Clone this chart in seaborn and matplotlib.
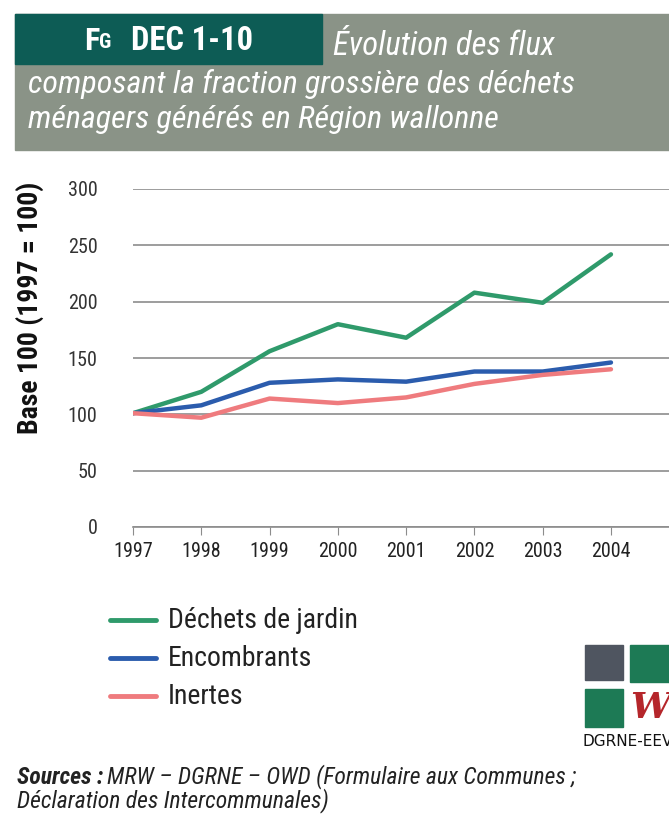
import numpy as np
import pandas as pd
import seaborn as sns
import matplotlib.pyplot as plt
from matplotlib import font_manager
from matplotlib.patches import Rectangle

years = [1997, 1998, 1999, 2000, 2001, 2002, 2003, 2004]
jardin = [101, 120, 156, 180, 168, 208, 199, 242]
encombrants = [101, 108, 128, 131, 129, 138, 138, 146]
inertes = [101, 97, 114, 110, 115, 127, 135, 140]
series_names = ["Déchets de jardin", "Encombrants", "Inertes"]
colors = ["#2f9a6b", "#2b5cad", "#ef7b7e"]

df = pd.DataFrame({"year": years * 3,
                   "value": jardin + encombrants + inertes,
                   "flux": np.repeat(series_names, len(years))})

sns.set_style("white")

# pick a narrow family if one is installed
names = {f.name for f in font_manager.fontManager.ttflist}
narrow = "Liberation Sans"
for cand in ["Liberation Sans Narrow", "Roboto Condensed", "Open Sans Condensed",
             "DejaVu Sans Condensed"]:
    if cand in names:
        narrow = cand
        break
plt.rcParams["font.family"] = [narrow, "DejaVu Sans"]

W, H = 669, 826
fig = plt.figure(figsize=(W / 100, H / 100), dpi=100)


def fx(px):
    return px / W


def fy(py):
    return 1 - py / H


# header
fig.patches.append(Rectangle((fx(15), fy(150)), fx(669 - 15), 136 / H,
                             transform=fig.transFigure, color="#8a9387", zorder=0))
fig.patches.append(Rectangle((fx(15), fy(64)), fx(322 - 15), 50 / H,
                             transform=fig.transFigure, color="#0d5c55", zorder=1))
fig.text(fx(84), fy(41), "F", color="white", fontsize=23, fontweight="bold", va="center")
fig.text(fx(99), fy(43), "G", color="white", fontsize=15, fontweight="bold", va="center")
fig.text(fx(131), fy(41), "DEC 1-10", color="white", fontsize=23.5, fontweight="bold",
         va="center")
fig.text(fx(333), fy(46), "Évolution des flux", color="white", fontsize=23.5,
         style="italic", va="center")
fig.text(fx(28), fy(84), "composant la fraction grossière des déchets", color="white",
         fontsize=23, style="italic", va="center")
fig.text(fx(28), fy(120), "ménagers générés en Région wallonne", color="white",
         fontsize=23, style="italic", va="center")

# chart
ax = fig.add_axes([fx(133), fy(527), 1 - fx(133), (527 - 189) / H])
sns.lineplot(data=df, x="year", y="value", hue="flux", palette=colors,
             linewidth=3.2, ax=ax, legend=False)
ax.set_xlim(1997, 2004.85)
ax.set_ylim(0, 300)
ax.set_yticks(range(0, 301, 50))
ax.set_xticks(years)
ax.yaxis.grid(True, color="#8c8c8c", linewidth=1.2)
ax.set_axisbelow(True)
for s in ["left", "right", "top"]:
    ax.spines[s].set_visible(False)
ax.spines["bottom"].set_color("#8c8c8c")
ax.spines["bottom"].set_linewidth(1.2)
ax.tick_params(axis="x", bottom=True, length=6, color="#8c8c8c", labelsize=14.5,
               labelcolor="#222222", pad=5)
ax.tick_params(axis="y", left=False, labelsize=14.5, labelcolor="#333333", pad=22)
ax.set_xlabel("")
ax.set_ylabel("")
fig.text(fx(30), fy(308), "Base 100 (1997 = 100)", rotation=90, fontsize=20,
         fontweight="bold", ha="center", va="center", color="#111111")

# legend
for i, (name, c) in enumerate(zip(series_names, colors)):
    y = fy(620 + 38 * i)
    fig.lines.append(plt.Line2D([fx(110), fx(156)], [y, y], color=c, linewidth=3.5,
                                transform=fig.transFigure))
    fig.text(fx(168), y, name, fontsize=20, va="center", color="#222222")

# logo
fig.patches.append(Rectangle((fx(585), fy(680)), fx(38), 35 / H,
                             transform=fig.transFigure, color="#4f5560"))
fig.patches.append(Rectangle((fx(630), fy(682)), fx(39), 37 / H,
                             transform=fig.transFigure, color="#1d7a55"))
fig.patches.append(Rectangle((fx(585), fy(727)), fx(38), 38 / H,
                             transform=fig.transFigure, color="#1d7a55"))
fig.text(fx(630), fy(708), "W", color="#b5262b", fontsize=26, fontweight="bold",
         style="italic", va="center", family="DejaVu Serif")
fig.text(fx(583), fy(741), "DGRNE-EEV", fontsize=11, va="center", color="#111111",
         family="DejaVu Sans")

# sources
src = fig.text(fx(17), fy(777), "Sources :", fontsize=17, fontweight="bold",
               style="italic", va="center", color="#222222")
fig.canvas.draw()
bb = src.get_window_extent(renderer=fig.canvas.get_renderer())
fig.text(bb.x1 / W + fx(4), fy(777), "MRW – DGRNE – OWD (Formulaire aux Communes ;",
         fontsize=17, style="italic", va="center", color="#222222")
fig.text(fx(17), fy(801), "Déclaration des Intercommunales)", fontsize=17,
         style="italic", va="center", color="#222222")

fig.savefig("out.png", dpi=100)
